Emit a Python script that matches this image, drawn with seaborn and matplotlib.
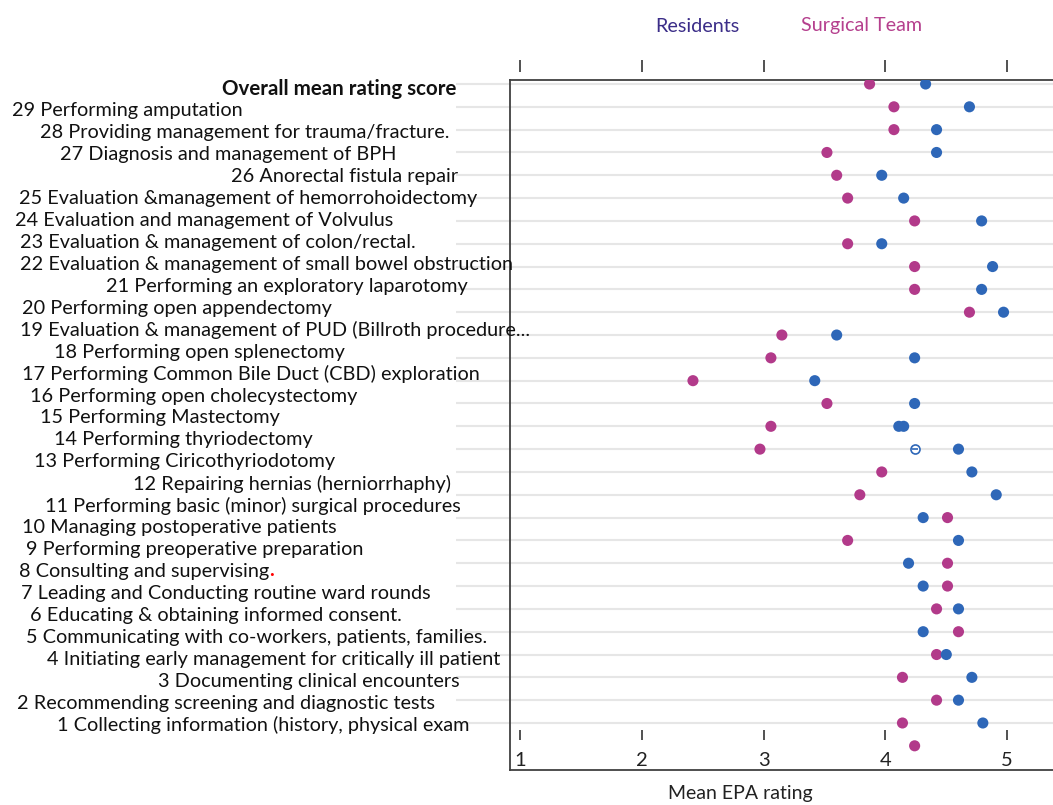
import numpy as np
import pandas as pd
import seaborn as sns
import matplotlib.pyplot as plt

# rows from top to bottom
labels = [
    "Overall mean rating score",
    "29 Performing amputation",
    "28 Providing management for trauma/fracture.",
    "27 Diagnosis and management of BPH",
    "26 Anorectal fistula repair",
    "25 Evaluation &management of hemorrohoidectomy",
    "24 Evaluation and management of Volvulus",
    "23 Evaluation & management of colon/rectal.",
    "22 Evaluation & management of small bowel obstruction",
    "21 Performing an exploratory laparotomy",
    "20 Performing open appendectomy",
    "19 Evaluation & management of PUD (Billroth procedure...",
    "18 Performing open splenectomy",
    "17 Performing Common Bile Duct (CBD) exploration",
    "16 Performing open cholecystectomy",
    "15 Performing Mastectomy",
    "14 Performing thyriodectomy",
    "13 Performing Ciricothyriodotomy",
    "12 Repairing hernias (herniorrhaphy)",
    "11 Performing basic (minor) surgical procedures",
    "10 Managing postoperative patients",
    "9 Performing preoperative preparation",
    "8 Consulting and supervising",
    "7 Leading and Conducting routine ward rounds",
    "6 Educating & obtaining informed consent.",
    "5 Communicating with co-workers, patients, families.",
    "4 Initiating early management for critically ill patient",
    "3 Documenting clinical encounters",
    "2 Recommending screening and diagnostic tests",
    "1 Collecting information (history, physical exam",
]

# mean EPA rating per row slot, as drawn
residents = [4.33, 4.69, 4.42, 4.42, 3.97, 4.15, 4.79, 3.97, 4.88, 4.79,
             4.97, 3.60, 4.24, 3.42, 4.24, 4.15, 4.60, 4.71, 4.91, 4.31,
             4.60, 4.19, 4.31, 4.60, 4.31, 4.50, 4.71, 4.60, 4.80, np.nan]
surgical_team = [3.87, 4.07, 4.07, 3.52, 3.60, 3.69, 4.24, 3.69, 4.24, 4.24,
                 4.69, 3.15, 3.06, 2.42, 3.52, 3.06, 2.97, 3.97, 3.79, 4.51,
                 3.69, 4.51, 4.51, 4.42, 4.60, 4.42, 4.14, 4.42, 4.14, 4.24]
# stray resident points in the original figure
extra_res_slot = [15]
extra_res_val = [4.11]
open_res_slot = [16]
open_res_val = [4.24]

x_ticks = [1, 2, 3, 4, 5]

# left edge of each row label, in pixels (the original labels are ragged)
label_left = [218, 12, 40, 60, 231, 19, 15, 20, 20, 106, 22, 20, 54, 22, 30,
              40, 54, 34, 133, 45, 22, 26, 19, 21, 30, 26, 47, 158, 17, 57]

BLUE = "#2e67b8"
MAGENTA = "#b23a8a"

sns.set_style("white")
plt.rcParams["font.family"] = ["Lato", "DejaVu Sans"]

W, H = 1053, 805
fig = plt.figure(figsize=(W / 100, H / 100), dpi=100)
ax = fig.add_axes([510 / W, 1 - 770 / H, 543 / W, 690 / H])

slots = list(range(len(labels)))
df = pd.DataFrame({
    "slot": slots + slots,
    "rating": surgical_team + residents,
    "group": ["Surgical Team"] * len(slots) + ["Residents"] * len(slots),
})

# grid lines run a little into the label area
ax.hlines(slots[:-1], -0.1, 1, transform=ax.get_yaxis_transform(),
          color="#e6e6e6", lw=1.5, zorder=0, clip_on=False)

sns.scatterplot(data=df, x="rating", y="slot", hue="group",
                palette={"Residents": BLUE, "Surgical Team": MAGENTA},
                s=64, edgecolor="none", legend=False, ax=ax, zorder=3)
sns.scatterplot(x=extra_res_val, y=extra_res_slot, color=BLUE, s=64,
                edgecolor="none", ax=ax, zorder=3)
ax.plot(open_res_val, open_res_slot, "o", ms=6.5, mfc="white", mec=BLUE,
        mew=1.2, zorder=3)
ax.plot(open_res_val, open_res_slot, "_", ms=5, mec=BLUE, mew=1.2, zorder=4)

ax.set_xlim(1 - 10 / 121.8, 1 + 533 / 121.8)
ax.set_ylim(30.06, -0.175)
ax.set_yticks([])
ax.set_ylabel("")
ax.set_xlabel("")
ax.set_xticks(x_ticks)
ax.set_xticklabels([str(t) for t in x_ticks], fontsize=14.5, color="#222222")
ax.tick_params(axis="x", length=0, pad=-13)

for side in ["left", "top", "bottom"]:
    ax.spines[side].set_color("#404040")
    ax.spines[side].set_linewidth(1.3)
ax.spines["right"].set_visible(False)

# detached tick marks above the frame and just inside the bottom
top_ticks = ax.secondary_xaxis(1 + 8 / 690)
top_ticks.set_xticks(x_ticks)
top_ticks.tick_params(direction="out", length=8.5, width=1.2, color="#333333",
                      labeltop=False, labelbottom=False)
top_ticks.spines[:].set_visible(False)

bot_ticks = ax.secondary_xaxis(30 / 690)
bot_ticks.set_alignment("top")
bot_ticks.set_xticks(x_ticks)
bot_ticks.tick_params(direction="out", length=7, width=1.2, color="#333333",
                      labeltop=False, labelbottom=False)
bot_ticks.spines[:].set_visible(False)

# row labels
for i, (lab, lx) in enumerate(zip(labels, label_left)):
    y = 1 - (89 + 21.93 * i) / H
    if i == 0:
        fig.text(456 / W, y, lab, ha="right", va="center", fontsize=14.8,
                 color="#111111", fontweight="bold")
        continue
    t = fig.text(lx / W, y, lab, ha="left", va="center", fontsize=14.3,
                 color="#111111")
    if lab.startswith("8 "):
        ax.annotate(".", xy=(1, 0), xycoords=t, ha="left", va="bottom",
                    fontsize=14.3, color="red", fontweight="bold",
                    annotation_clip=False)

fig.text(697 / W, 1 - 26 / H, "Residents", color="#3b2d88", ha="center",
         va="center", fontsize=14.2)
fig.text(862 / W, 1 - 26 / H, "Surgical Team", color="#b5408e", ha="center",
         va="center", fontsize=14.2)
fig.text(740 / W, 1 - 793 / H, "Mean EPA rating", color="#222222",
         ha="center", va="center", fontsize=14)

fig.savefig("out.png", dpi=100)
